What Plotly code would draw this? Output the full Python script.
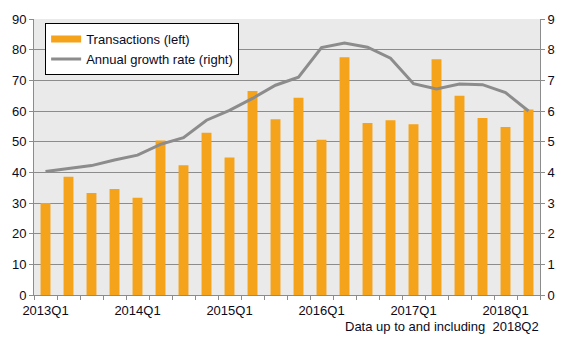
import plotly.graph_objects as go

quarters = [f"{y}Q{q}" for y in range(2013, 2019) for q in range(1, 5)][:22]
transactions = [30.0, 38.6, 33.3, 34.6, 31.7, 50.4, 42.3, 52.9, 44.8, 66.5, 57.3,
                64.3, 50.6, 77.5, 56.1, 57.0, 55.7, 76.9, 65.0, 57.7, 54.8, 60.5]
growth_rate = [4.03, 4.12, 4.22, 4.40, 4.56, 4.91, 5.13, 5.70, 6.02, 6.41, 6.84,
               7.10, 8.07, 8.22, 8.08, 7.72, 6.89, 6.72, 6.88, 6.86, 6.60, 6.00]
left_ticks = list(range(0, 100, 10))
right_ticks = list(range(0, 10))

idx = list(range(len(quarters)))
label_idx = [i for i, q in enumerate(quarters) if q.endswith("Q1")]

BAR = "#F5A31A"
LINE = "#8C8C8C"
GRID = "#8C8C8C"
TXT = "#0a0a1e"
FONT = "Liberation Sans, Arial, sans-serif"

fig = go.Figure()
fig.add_trace(go.Bar(x=idx, y=transactions, name="Transactions (left)",
                     marker=dict(color=BAR, line=dict(width=0)), yaxis="y",
                     showlegend=False))
# legend key for the bars, drawn as a wide flat swatch
fig.add_trace(go.Scatter(x=[None], y=[None], name="Transactions (left)",
                         mode="lines", line=dict(color=BAR, width=7),
                         yaxis="y", hoverinfo="skip"))
fig.add_trace(go.Scatter(x=idx, y=growth_rate, name="Annual growth rate (right)",
                         mode="lines", line=dict(color=LINE, width=3), yaxis="y2"))

fig.update_layout(
    width=567, height=340,
    margin=dict(l=28, r=20, t=14, b=45),
    paper_bgcolor="white",
    plot_bgcolor="#EAEAEA",
    font=dict(family=FONT, size=13, color=TXT),
    bargap=0.57,
    showlegend=True,
    legend=dict(x=0.022, y=0.985, xanchor="left", yanchor="top",
                bgcolor="white", bordercolor="black", borderwidth=1,
                font=dict(size=13, color=TXT), itemwidth=30,
                tracegroupgap=0),
    xaxis=dict(
        range=[-0.5, len(quarters) - 0.5],
        tickmode="array", tickvals=label_idx,
        ticktext=[quarters[i] for i in label_idx],
        ticks="", showgrid=False, zeroline=False,
        showline=True, linecolor=GRID, linewidth=1,
        ticklabelstandoff=3,
        minor=dict(tickmode="array",
                   tickvals=[i - 0.5 for i in range(len(quarters) + 1)],
                   ticks="outside", ticklen=4, tickcolor=GRID, showgrid=False),
    ),
    yaxis=dict(
        range=[0, 90], tickmode="array", tickvals=left_ticks,
        showgrid=True, gridcolor=GRID, gridwidth=1, zeroline=False,
        showline=True, linecolor=GRID, linewidth=1,
        ticks="outside", ticklen=4, tickcolor=GRID,
    ),
    yaxis2=dict(
        range=[0, 9], tickmode="array", tickvals=right_ticks,
        overlaying="y", side="right", showgrid=False, zeroline=False,
        showline=True, linecolor=GRID, linewidth=1,
        ticks="outside", ticklen=4, tickcolor=GRID,
    ),
    annotations=[dict(
        text="Data up to and including\u00a0\u00a02018Q2", xref="paper", yref="paper",
        x=(548 - 28) / (567 - 48), y=-0.113, xanchor="right", yanchor="middle",
        showarrow=False, font=dict(size=13, color=TXT),
    )],
)

fig.write_html("out.html")
